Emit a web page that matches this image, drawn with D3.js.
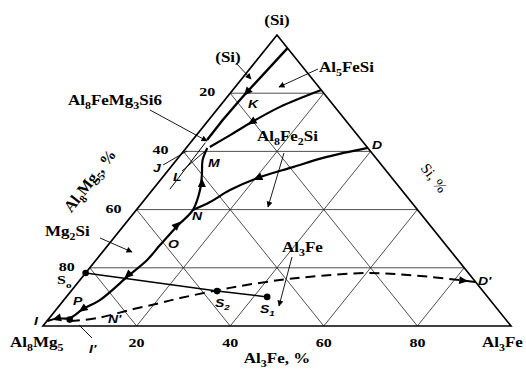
<!DOCTYPE html>
<html><head><meta charset="utf-8">
<script src="https://cdn.jsdelivr.net/npm/d3@7"></script>
<style>body{margin:0;background:#fff} svg{display:block}</style>
</head><body><svg id="c" width="526" height="369"></svg>
<script>
// ---------- DATA (compositions as [Al3Fe %, Si %]) ----------
const vertexNames = ["Al_8Mg_5", "Al_3Fe", "(Si)"];
const gridLevels = [20, 40, 60, 80];
const bottomTickLabels = ["20", "40", "60", "80"];
const leftTickLabels = ["20", "40", "60", "80"];          // Al8Mg5 % along left edge
const axisTitles = ["Al_3Fe, %", "Al_8Mg_5, %", "Si, %"];

const valleySiAl5FeSi = [[4.5,95.5],[3.4,80.4],[3.2,77.0],[3.0,70.8],[3.1,63.9]];
const valleyAl5FeSiAl8Fe2Si = [[18.9,81.1],[13.0,75.3],[9.6,70.1],[7.2,65.6],[4.9,61.5]];
const valleyDN = [[38.8,61.2],[31.6,58.1],[26.1,54.6],[20.5,50.9],[16.6,46.7],[14.4,42.6],[12.1,39.9]];
const valleyMI = [[4.5,61.2],[5.6,57.0],[8.0,51.9],[10.2,46.7],[12.1,39.9],[11.5,34.4],[11.1,27.8],
                  [10.9,22.7],[9.6,17.2],[7.7,8.9],[5.6,5.8],[4.4,2.75],[1.7,2.58],[0.1,1.72]];
const sectionDashed = [[4.9,1.7],[10.2,2.7],[15.8,5.5],[21.0,7.9],[24.5,9.6],[33.4,13.1],
                       [42.7,15.8],[50.6,17.2],[60.8,18.2],[72.0,17.2],[84.9,15.1]];
const sectionS = [[0,18.2],[31.2,12.0],[42.9,10.0]];       // S0, S2, S1
const innerLine = [[3.2,63.0],[3.6,47.0]];
const curveArrows = [                                       // [at, toward]
  [[3.4,80.4],[3.2,77.0]], [[9.6,70.1],[7.2,65.6]], [[20.5,50.9],[16.6,46.7]],
  [[9.4,49.1],[8.0,51.9]], [[11.3,34.7],[12.1,39.9]], [[9.4,17.5],[7.7,8.9]],
  [[5.6,5.8],[4.4,2.75]], [[1.7,2.58],[0.1,1.72]], [[82.0,15.6],[84.9,15.1]]
];
const dots = [[0,18.2],[31.2,12.0],[42.9,10.0],[4.6,2.2]];

// ---------- SCALES ----------
const xs = d3.scaleLinear().domain([0,100]).range([43,511]);
const ys = d3.scaleLinear().domain([0,100]).range([326,35]);
const P = d => [xs(d[0] + d[1]/2), ys(d[1])];

const svg = d3.select("#c");
const defs = svg.append("defs");
defs.append("marker").attr("id","ah").attr("viewBox","0 0 10 10").attr("refX",9).attr("refY",5)
  .attr("markerWidth",9).attr("markerHeight",6).attr("markerUnits","userSpaceOnUse").attr("orient","auto")
  .append("path").attr("d","M0,0L10,5L0,10Z").attr("fill","#000");

const g = svg.append("g");
const lineGen = d3.line().x(d => P(d)[0]).y(d => P(d)[1]);
const smooth = d3.line().x(d => P(d)[0]).y(d => P(d)[1]).curve(d3.curveCatmullRom.alpha(0.5));

// grid
gridLevels.forEach(v => {
  [[[0,v],[100-v,v]], [[v,0],[v,100-v]], [[100-v,0],[0,100-v]]].forEach(seg =>
    g.append("path").attr("d", lineGen(seg)).attr("stroke","#222").attr("stroke-width",0.8).attr("fill","none"));
});
// triangle
g.append("path").attr("d", lineGen([[0,0],[100,0],[0,100],[0,0]]) + "Z")
  .attr("fill","none").attr("stroke","#000").attr("stroke-width",1.7).attr("stroke-linejoin","miter");

// curves
g.append("path").attr("d", lineGen(innerLine)).attr("stroke","#000").attr("stroke-width",1).attr("fill","none");
g.append("path").attr("d", lineGen(valleySiAl5FeSi)).attr("stroke","#000").attr("stroke-width",2.4).attr("fill","none");
[valleyAl5FeSiAl8Fe2Si, valleyDN, valleyMI].forEach(c =>
  g.append("path").attr("d", smooth(c)).attr("stroke","#000").attr("stroke-width",2.2).attr("fill","none"));
g.append("path").attr("d", smooth(sectionDashed)).attr("stroke","#000").attr("stroke-width",2)
  .attr("stroke-dasharray","10,6").attr("fill","none");
g.append("path").attr("d", lineGen(sectionS)).attr("stroke","#000").attr("stroke-width",1.5).attr("fill","none");

// arrows on curves
curveArrows.forEach(([a,b]) => {
  const p = P(a), q = P(b);
  const ang = Math.atan2(q[1]-p[1], q[0]-p[0]) * 180 / Math.PI;
  g.append("path").attr("d","M5,0L-4,-4L-4,4Z").attr("fill","#000")
    .attr("transform",`translate(${p[0]},${p[1]}) rotate(${ang})`);
});
dots.forEach(d => g.append("circle").attr("cx",P(d)[0]).attr("cy",P(d)[1]).attr("r",3.3).attr("fill","#000"));

// leaders (layout)
const leaders = [
  [[236,63],[251,79],true],[[318,69],[279,87],true],[[150,110],[207,141],true],
  [[284,153],[268,207],true],[[100,238],[132,252],true],[[292,257],[279,306],true],
  [[163,165],[187,151],false],[[182,171],[204,152],false],[[92,338],[79,325],false]
];
leaders.forEach(([a,b,arr]) => {
  const l = g.append("line").attr("x1",a[0]).attr("y1",a[1]).attr("x2",b[0]).attr("y2",b[1])
    .attr("stroke","#000").attr("stroke-width",0.9);
  if (arr) l.attr("marker-end","url(#ah)");
});

// text helper
const SERIF = "'Liberation Serif','Times New Roman',serif";
const SANS = "'Liberation Sans',Arial,sans-serif";
function txt(str, x, y, o = {}) {
  const size = o.size || 17;
  let tr = `translate(${x},${y})`;
  if (o.rot) tr += ` rotate(${o.rot})`;
  tr += ` scale(1,${o.sy || 0.82})`;
  const t = g.append("text").attr("transform", tr)
    .attr("text-anchor", o.anchor || "start")
    .attr("font-family", o.family || SERIF).attr("font-weight", o.weight || "bold")
    .attr("font-style", o.style || "normal").attr("font-size", size).attr("fill","#000");
  const segs = [];
  for (let i = 0; i < str.length; i++) {
    if (str[i] === "_" && i + 1 < str.length) { segs.push({s:str[i+1], sub:true}); i++; }
    else if (segs.length && !segs[segs.length-1].sub) segs[segs.length-1].s += str[i];
    else segs.push({s:str[i], sub:false});
  }
  let shifted = false;
  segs.forEach(sg => {
    const ts = t.append("tspan").text(sg.s);
    if (sg.sub) { ts.attr("font-size", size*0.7); if (!shifted) { ts.attr("dy", size*0.28); shifted = true; } }
    else if (shifted) { ts.attr("dy", -size*0.28); shifted = false; }
  });
  return t;
}

// vertex labels
txt(vertexNames[0], 10, 347);
txt(vertexNames[1], 482, 347);
txt(vertexNames[2], 277, 25, {anchor:"middle"});
// ticks
bottomTickLabels.forEach((s,i) => txt(s, xs(gridLevels[i]), 347, {anchor:"middle", size:16}));
leftTickLabels.forEach((s,i) => {
  const p = P([0, 100 - gridLevels[i]]);
  txt(s, p[0] - 15, p[1] + 3, {anchor:"end", size:16});
});
// axis titles
txt(axisTitles[0], 277, 363, {anchor:"middle"});
txt(axisTitles[1], 94, 184, {anchor:"middle", rot:-52, sy:1, size:16});
txt(axisTitles[2], 430, 181, {anchor:"middle", rot:52, sy:1, size:15, weight:"normal"});

// phase labels
txt("(Si)", 228, 62, {anchor:"middle"});
txt("Al_5FeSi", 319, 72);
txt("Al_8FeMg_3Si6", 68, 105);
txt("Al_8Fe_2Si", 257, 141);
txt("Mg_2Si", 45, 236);
txt("Al_3Fe", 282, 252);
txt("S_o", 57, 284, {size:16});

// point labels
const IT = {family:SANS, style:"italic", size:14, sy:0.8};
[["K",248,108],["D",372,149],["J",153,172],["L",173,181],["M",208,167],["N",192,220],
 ["O",168,248],["P",73,305],["I",34,325],["I'",89,353],["N'",108,323],["S_2",215,307],
 ["S_1",260,313],["D'",478,285]].forEach(([s,x,y]) => txt(s, x, y, IT));
</script></body></html>
